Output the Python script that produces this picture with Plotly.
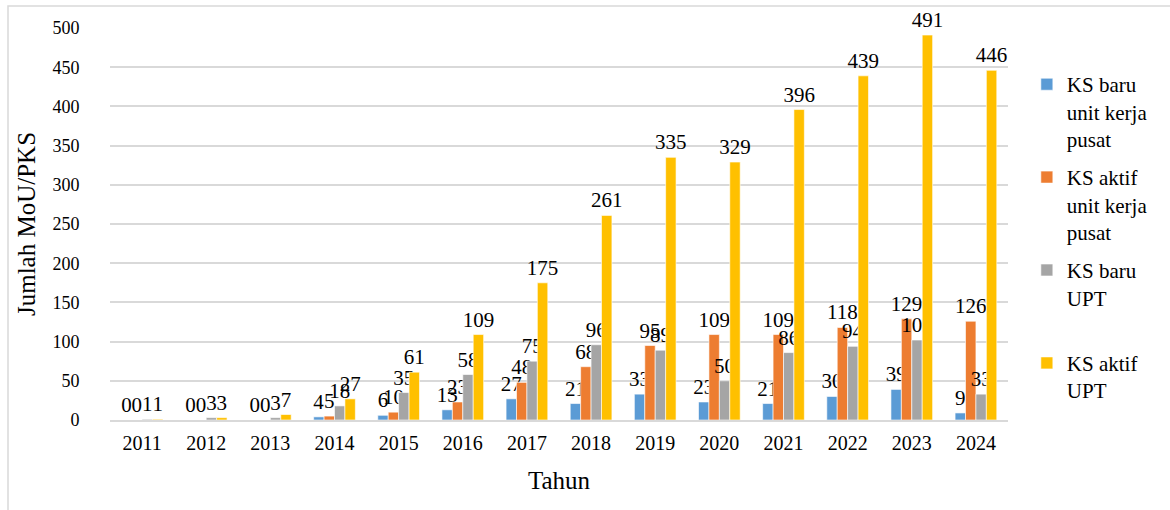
import plotly.graph_objects as go

years = ["2011", "2012", "2013", "2014", "2015", "2016", "2017", "2018", "2019", "2020", "2021", "2022", "2023", "2024"]
ks_baru_pusat = [0, 0, 0, 4, 6, 13, 27, 21, 33, 23, 21, 30, 39, 9]
ks_aktif_pusat = [0, 0, 0, 5, 10, 23, 48, 68, 95, 109, 109, 118, 129, 126]
ks_baru_upt = [1, 3, 3, 18, 35, 58, 75, 96, 89, 50, 86, 94, 102, 33]
ks_aktif_upt = [1, 3, 7, 27, 61, 109, 175, 261, 335, 329, 396, 439, 491, 446]

series = [
    ("KS baru<br>unit kerja<br>pusat", ks_baru_pusat, "#5B9BD5"),
    ("KS aktif<br>unit kerja<br>pusat", ks_aktif_pusat, "#ED7D31"),
    ("KS baru<br>UPT<br> ", ks_baru_upt, "#A5A5A5"),
    ("KS aktif<br>UPT", ks_aktif_upt, "#FFC000"),
]

FONT = "Liberation Serif, Times New Roman, serif"

fig = go.Figure()
for i, (name, vals, color) in enumerate(series):
    fig.add_trace(go.Bar(
        x=years, y=vals, name=name,
        marker=dict(color=color, line=dict(color="white", width=0.6)),
        text=[str(v) for v in vals], textposition="outside",
        textfont=dict(family=FONT, size=21, color="black"),
        constraintext="none", cliponaxis=False,
        legendgroup=f"g{i}",
    ))

W, H = 1170, 510
ml, mr, mt, mb = 110, 162, 28, 90
pw = W - ml - mr
ph = H - mt - mb

fig.update_layout(
    width=W, height=H,
    margin=dict(l=ml, r=mr, t=mt, b=mb, autoexpand=False),
    paper_bgcolor="white", plot_bgcolor="white",
    barmode="group", bargap=0.35, bargroupgap=0,
    font=dict(family=FONT, size=20, color="black"),
    showlegend=True,
    legend=dict(
        x=1.021, y=0.908, xanchor="left", yanchor="top",
        font=dict(family=FONT, size=21, color="black"),
        tracegroupgap=8, valign="top", itemwidth=30,
        bgcolor="rgba(0,0,0,0)",
    ),
    xaxis=dict(
        title=dict(text="Tahun", font=dict(family=FONT, size=25), standoff=19),
        tickfont=dict(family=FONT, size=20),
        showline=True, linecolor="#d9d9d9", linewidth=1.5,
        ticks="outside", ticklen=4, tickcolor="rgba(0,0,0,0)",
        showgrid=False, automargin=False,
    ),
    yaxis=dict(
        title=dict(text="Jumlah MoU/PKS", font=dict(family=FONT, size=25), standoff=9),
        range=[0, 500], dtick=50,
        tickfont=dict(family=FONT, size=18),
        showgrid=True, gridcolor="#d9d9d9", gridwidth=1.5,
        zeroline=False, showline=False,
        ticks="outside", ticklen=26, tickcolor="rgba(0,0,0,0)",
        automargin=False,
    ),
)

# outer chart frame
x0 = (8 - ml) / pw
x1 = (W + 10 - ml) / pw
y1 = 1 + (mt - 6) / ph
y0 = (mt + ph - (H + 10)) / ph
fig.add_shape(type="rect", xref="paper", yref="paper", x0=x0, x1=x1, y0=y0, y1=y1,
              line=dict(color="#d9d9d9", width=1.5), layer="below")

fig.write_html("out.html", config={"displayModeBar": False},
               post_script="document.body.style.margin='0';")
